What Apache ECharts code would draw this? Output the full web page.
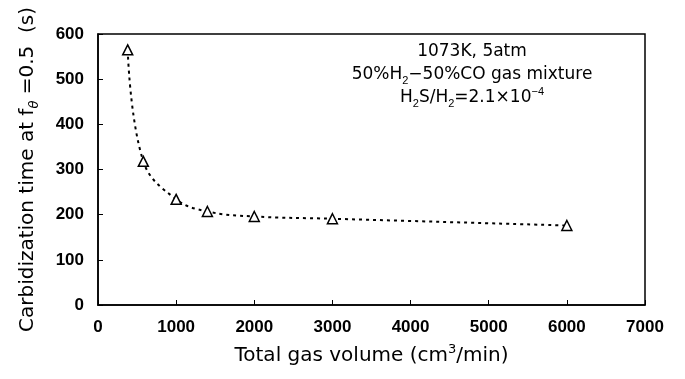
<!DOCTYPE html>
<html lang="en">
<head>
    <meta charset="UTF-8">
    <title>Carbidization time vs total gas volume</title>
    <style>
        html, body { margin: 0; padding: 0; background: #fff; }
        #chart { width: 685px; height: 379px; }
    </style>
</head>
<body>
<div id="chart"></div>
<script type="text/javascript" src="https://cdn.jsdelivr.net/npm/echarts@6/dist/echarts.min.js"></script>
<script type="text/javascript">
    // total gas volume (cm3/min) and carbidization time (s)
    var gasVolume = [380, 580, 1000, 1400, 2000, 3000, 6000];
    var carbTime = [565, 318, 234, 207, 196, 191, 176];
    var xTicks = [0, 1000, 2000, 3000, 4000, 5000, 6000, 7000];
    var yTicks = [0, 100, 200, 300, 400, 500, 600];
    var noteLines = [
        '1073K, 5atm',
        '50%H{sub|2}\u221250%CO gas mixture',
        'H{sub|2}S/H{sub|2}=2.1\u00d710{sup|\u22124}'
    ];

    var points = [];
    for (var i = 0; i < gasVolume.length; i++) {
        points.push([gasVolume[i], carbTime[i]]);
    }

    var font = 'Liberation Sans, Arial, sans-serif';
    var wideFont = 'DejaVu Sans, Liberation Sans, sans-serif';
    var myChart = echarts.init(document.getElementById('chart'), null, {renderer: 'canvas'});

    var option = {
        backgroundColor: '#fff',
        animation: false,
        grid: {
            left: 98, right: 40, top: 34, bottom: 74,
            show: true, borderColor: '#000', borderWidth: 1.5
        },
        xAxis: {
            type: 'value',
            min: xTicks[0],
            max: xTicks[xTicks.length - 1],
            interval: 1000,
            name: 'Total gas volume (cm{sup|3}/min)',
            nameLocation: 'middle',
            nameGap: 38,
            nameTextStyle: {
                color: '#000', fontSize: 20, fontFamily: wideFont, lineHeight: 26,
                rich: {
                    sup: {fontSize: 13, verticalAlign: 'top', lineHeight: 15, color: '#000', fontFamily: wideFont}
                }
            },
            axisLine: {lineStyle: {color: '#000', width: 1.5}},
            axisTick: {inside: true, length: 5, lineStyle: {color: '#000'}},
            axisLabel: {
                color: '#000', fontSize: 17, fontWeight: 'bold', fontFamily: font, margin: 14,
                formatter: function (v) { return String(v); }
            },
            splitLine: {show: false}
        },
        yAxis: {
            type: 'value',
            min: yTicks[0],
            max: yTicks[yTicks.length - 1],
            interval: 100,
            name: 'Carbidization time at f{sub|\u03b8} =0.5  (s)',
            nameLocation: 'middle',
            nameGap: 57,
            nameTextStyle: {
                color: '#000', fontSize: 20, fontFamily: wideFont, lineHeight: 26,
                rich: {
                    sub: {fontSize: 13, fontStyle: 'italic', verticalAlign: 'bottom', lineHeight: 20, color: '#000', fontFamily: wideFont}
                }
            },
            axisLine: {lineStyle: {color: '#000', width: 1.5}},
            axisTick: {inside: true, length: 5, lineStyle: {color: '#000'}},
            axisLabel: {color: '#000', fontSize: 17, fontWeight: 'bold', fontFamily: font, margin: 14},
            splitLine: {show: false}
        },
        graphic: [{
            type: 'text',
            x: 472,
            y: 40,
            style: {
                text: noteLines.join('\n'),
                fill: '#000',
                font: '17px ' + wideFont,
                align: 'center',
                verticalAlign: 'top',
                lineHeight: 23,
                rich: {
                    sub: {fontSize: 11, verticalAlign: 'bottom', lineHeight: 23, fill: '#000'},
                    sup: {fontSize: 11, verticalAlign: 'top', lineHeight: 20, fill: '#000'}
                }
            }
        }],
        series: [{
            name: 'Carbidization time',
            type: 'line',
            data: points,
            smooth: 0.4,
            symbol: 'triangle',
            symbolSize: 10,
            itemStyle: {color: '#fff', borderColor: '#000', borderWidth: 1.5},
            lineStyle: {color: '#000', width: 2, type: [3, 4]}
        }]
    };

    myChart.setOption(option);
</script>
</body>
</html>
